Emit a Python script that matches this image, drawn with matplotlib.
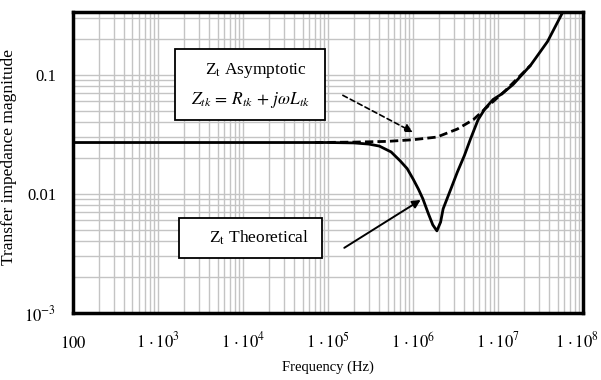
import numpy as np
import matplotlib.pyplot as plt
import matplotlib.transforms as mtransforms
from matplotlib.patches import Rectangle
from matplotlib.ticker import FixedLocator, LogLocator, NullFormatter

plt.rcParams['font.family'] = ['Liberation Serif', 'DejaVu Serif']
plt.rcParams['mathtext.fontset'] = 'stix'

# theoretical transfer impedance
f_theo = [1e2, 1e3, 1e4, 1e5, 2e5, 3e5, 4e5, 5.5e5, 7e5, 8.5e5, 1e6, 1.15e6,
          1.3e6, 1.5e6, 1.7e6, 1.9e6, 2.1e6, 2.25e6, 2.8e6, 3.3e6, 4e6,
          4.7e6, 5.8e6, 7e6, 8.7e6, 1.1e7, 1.5e7, 2.4e7, 3.8e7, 5.8e7]
z_theo = [0.027, 0.027, 0.027, 0.027, 0.0268, 0.0262, 0.0252, 0.0225, 0.019,
          0.0163, 0.0133, 0.011, 0.0091, 0.0069, 0.0055, 0.0049, 0.0058,
          0.0075, 0.0112, 0.0152, 0.021, 0.0287, 0.042, 0.052, 0.062, 0.069,
          0.083, 0.12, 0.19, 0.34]

# asymptotic Z = R + jwL
f_asym = [7e4, 2e5, 5e5, 1e6, 1.9e6, 3.3e6, 5.1e6, 7.9e6, 1.2e7, 2.4e7]
z_asym = [0.027, 0.0272, 0.0276, 0.0285, 0.030, 0.035, 0.042, 0.056, 0.073, 0.12]

xticks = [1e2, 1e3, 1e4, 1e5, 1e6, 1e7, 1e8]
xlabels = ['$100$'] + [r'$1\,\cdot 10^{%d}$' % k for k in range(3, 9)]
yticks = [1e-3, 1e-2, 1e-1]
ylabels = [r'$10^{-3}$', '0.01', '0.1']

fig = plt.figure(figsize=(6.01, 3.80), dpi=100)
ax = fig.add_axes([0.1215, 0.176, 0.849, 0.792])

ax.set_xscale('log')
ax.set_yscale('log')
ax.set_xlim(1e2, 1e8)
ax.set_ylim(1e-3, 0.335)

ax.plot(f_theo, z_theo, color='black', lw=2, solid_joinstyle='round', zorder=3)
ax.plot(f_asym, z_asym, color='black', lw=2, ls=(0, (3, 1.5)), zorder=3)

ax.xaxis.set_major_locator(FixedLocator(xticks))
ax.set_xticklabels(xlabels, fontsize=12, va='baseline')
ax.yaxis.set_major_locator(FixedLocator(yticks))
ax.set_yticklabels(ylabels, fontsize=12)
ax.xaxis.set_minor_locator(LogLocator(base=10, subs=np.arange(2, 10)))
ax.yaxis.set_minor_locator(LogLocator(base=10, subs=np.arange(2, 10)))
ax.xaxis.set_minor_formatter(NullFormatter())
ax.yaxis.set_minor_formatter(NullFormatter())
ax.tick_params(which='both', length=0)
ax.tick_params(axis='x', pad=25)
ax.tick_params(axis='y', pad=12)
# keep the last label inside the figure
last = ax.get_xticklabels()[-1]
last.set_transform(last.get_transform() +
                   mtransforms.ScaledTranslation(-6 / 100, 0, fig.dpi_scale_trans))

ax.grid(True, which='both', color='#c4c4c4', lw=1)
ax.set_axisbelow(True)
for s in ax.spines.values():
    s.set_linewidth(2.5)

ax.set_xlabel('Frequency (Hz)', fontsize=10.5, labelpad=6)
ax.set_ylabel('Transfer impedance magnitude', fontsize=12.5)
ax.yaxis.set_label_coords(-0.11, 0.52)

# annotation boxes
ax.add_patch(Rectangle((0.2, 0.641), 0.294, 0.236, transform=ax.transAxes,
                       fc='white', ec='black', lw=1.3, zorder=5))
ax.add_patch(Rectangle((0.208, 0.183), 0.28, 0.133, transform=ax.transAxes,
                       fc='white', ec='black', lw=1.3, zorder=5))
ax.text(0.358, 0.807, 'Z$_\\mathrm{t}$ Asymptotic', transform=ax.transAxes,
        ha='center', va='center', fontsize=12.5, zorder=6)
ax.text(0.347, 0.708, '$Z_{tk}\\,=\\,R_{tk}\\,+\\,j\\omega L_{tk}$',
        transform=ax.transAxes, ha='center', va='center', fontsize=12.5,
        zorder=6)
ax.text(0.365, 0.249, 'Z$_\\mathrm{t}$ Theoretical', transform=ax.transAxes,
        ha='center', va='center', fontsize=12.5, zorder=6)

ax.annotate('', xy=(0.671, 0.597), xytext=(0.524, 0.728),
            xycoords='axes fraction',
            arrowprops=dict(arrowstyle='-|>', color='black', lw=1.2,
                            ls=(0, (3, 2)), mutation_scale=12))
ax.annotate('', xy=(0.686, 0.381), xytext=(0.527, 0.212),
            xycoords='axes fraction',
            arrowprops=dict(arrowstyle='-|>', color='black', lw=1.4,
                            mutation_scale=12))

fig.savefig('out.png', dpi=100)
